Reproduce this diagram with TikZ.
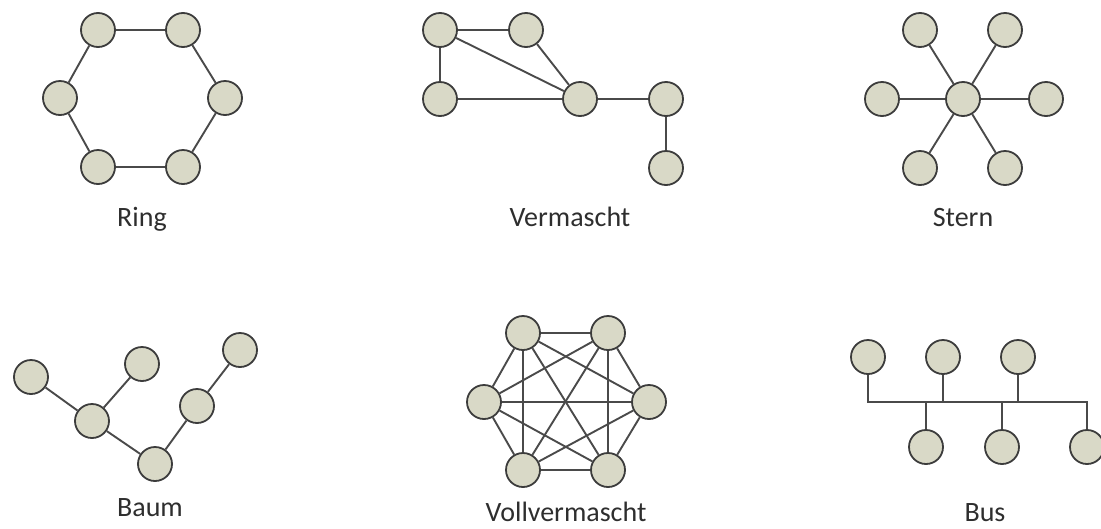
\documentclass[tikz,border=0pt]{standalone}
\usepackage{fontspec}
\setmainfont{Carlito}
\definecolor{nodefill}{HTML}{D9D9C7}
\definecolor{nodeedge}{HTML}{3C3C3C}
\definecolor{linkcol}{HTML}{4A4A4A}
\definecolor{labelcol}{HTML}{2E2E2E}
\begin{document}
\begin{tikzpicture}[x=1pt,y=-1pt,
  station/.style={circle,draw=nodeedge,fill=nodefill,line width=1.8pt,
    minimum size=34pt,inner sep=0pt},
  link/.style={draw=linkcol,line width=1.9pt},
  caption/.style={font=\fontsize{28}{31}\selectfont,text=labelcol,anchor=base,inner sep=0pt}]
\useasboundingbox (0,0) rectangle (1101,528);

% Ring
\node[station] (r1) at (98,30) {};
\node[station] (r2) at (183,30) {};
\node[station] (r3) at (225,98) {};
\node[station] (r4) at (183,167) {};
\node[station] (r5) at (98,167) {};
\node[station] (r6) at (60,98) {};
\path[link] (r1)--(r2) (r2)--(r3) (r3)--(r4) (r4)--(r5) (r5)--(r6) (r6)--(r1);
\node[caption] (ringlbl) at (142,226) {Ring};

% Vermascht
\node[station] (m1) at (440,30) {};
\node[station] (m2) at (526,30) {};
\node[station] (m3) at (440,99) {};
\node[station] (m4) at (580,99) {};
\node[station] (m5) at (666,99) {};
\node[station] (m6) at (666,168) {};
\path[link] (m1)--(m2) (m1)--(m3) (m1)--(m4) (m2)--(m4) (m3)--(m4) (m4)--(m5) (m5)--(m6);
\node[caption] (meshlbl) at (570,226) {Vermascht};

% Stern
\node[station] (s0) at (963,99) {};
\node[station] (s1) at (920,30) {};
\node[station] (s2) at (1005,30) {};
\node[station] (s3) at (1046,99) {};
\node[station] (s4) at (1005,168) {};
\node[station] (s5) at (920,168) {};
\node[station] (s6) at (882,99) {};
\foreach \i in {1,...,6} \path[link] (s0)--(s\i);
\node[caption] (starlbl) at (963,226) {Stern};

% Baum
\node[station] (b1) at (31,377) {};
\node[station] (b2) at (142,364) {};
\node[station] (b3) at (92,421) {};
\node[station] (b4) at (155,464) {};
\node[station] (b5) at (197,406) {};
\node[station] (b6) at (240,350) {};
\path[link] (b1)--(b3) (b2)--(b3) (b3)--(b4) (b4)--(b5) (b5)--(b6);
\node[caption] (treelbl) at (150,516) {Baum};

% Vollvermascht
\node[station] (v1) at (523,333) {};
\node[station] (v2) at (608,333) {};
\node[station] (v3) at (649,402) {};
\node[station] (v4) at (608,470) {};
\node[station] (v5) at (523,470) {};
\node[station] (v6) at (484,402) {};
\foreach \i in {1,...,5} {
  \pgfmathtruncatemacro{\first}{\i+1}
  \foreach \j in {\first,...,6} \path[link] (v\i)--(v\j);
}
\node[caption] (fulllbl) at (566,521) {Vollvermascht};

% Bus
\node[station] (u1) at (868,357) {};
\node[station] (u2) at (943,357) {};
\node[station] (u3) at (1018,357) {};
\node[station] (d1) at (926,447) {};
\node[station] (d2) at (1002,447) {};
\node[station] (d3) at (1087,447) {};
\coordinate (busend) at (1087,402);
\path[link] (u1) |- (busend) -- (d3);
\path[link] (u2) -- (u2 |- busend);
\path[link] (u3) -- (u3 |- busend);
\path[link] (d1) -- (d1 |- busend);
\path[link] (d2) -- (d2 |- busend);
\node[caption] (buslbl) at (985,521) {Bus};
\end{tikzpicture}
\end{document}
